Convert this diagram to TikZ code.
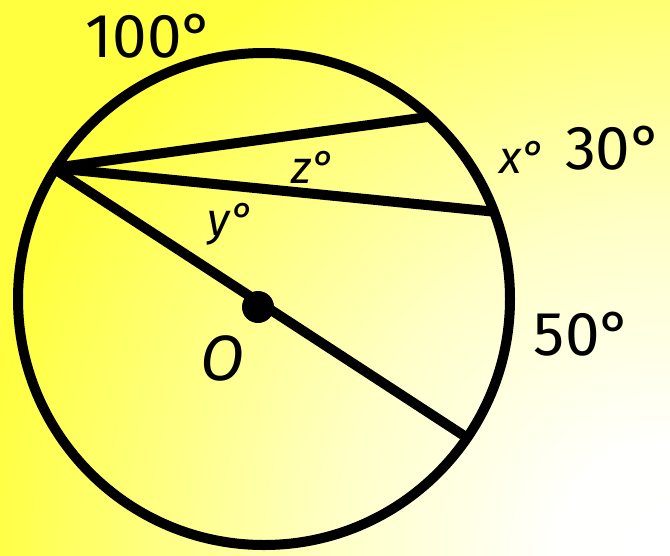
\documentclass[tikz,border=0pt]{standalone}
\usepackage{fontspec}
\setmainfont{Fira Sans}
\definecolor{yA}{RGB}{255,255,64}
\definecolor{yL}{RGB}{255,255,200}
\pgfdeclareradialshading{bgshade}{\pgfpoint{0bp}{0bp}}{color(0bp)=(white); color(4bp)=(white!98!yL); color(12bp)=(yL); color(25bp)=(yA); color(50bp)=(yA)}
\begin{document}
\begin{tikzpicture}[x=1pt,y=-1pt,
  thick line/.style={line width=10pt,line cap=butt},
  big/.style={font=\fontsize{62}{62}\selectfont,inner sep=0pt},
  small/.style={font=\fontsize{46}{46}\selectfont\itshape,inner sep=0pt}]
\useasboundingbox (0,0) rectangle (670,555);
\begin{scope}
\clip (0,0) rectangle (670,555);
\fill[yA] (0,0) rectangle (670,555);
\shade[shading=bgshade] (670,555) circle (690);
\end{scope}
\coordinate (C) at (264,299);
\coordinate (P) at (53,168);
\coordinate (A) at (428,117);
\coordinate (B) at (497,212);
\coordinate (D) at (466,437);
\draw[line width=10pt] (C) circle (246);
\draw[thick line] (P) -- (A);
\draw[thick line] (P) -- (B);
\draw[thick line] (P) -- (D);
\fill (258,307) circle (16) node (dot) {};
\node[big] (l100) at (150,36) {100°};
\node[big] (l30) at (614,148) {30°};
\node[big] (l50) at (583,334) {50°};
\node[small] (lx) at (522,157) {x°};
\node[small] (lz) at (313,167) {z°};
\node[small] (ly) at (231,224) {y°};
\node[big,font=\fontsize{64}{64}\selectfont\itshape] (lO) at (222,358) {O};
\end{tikzpicture}
\end{document}
